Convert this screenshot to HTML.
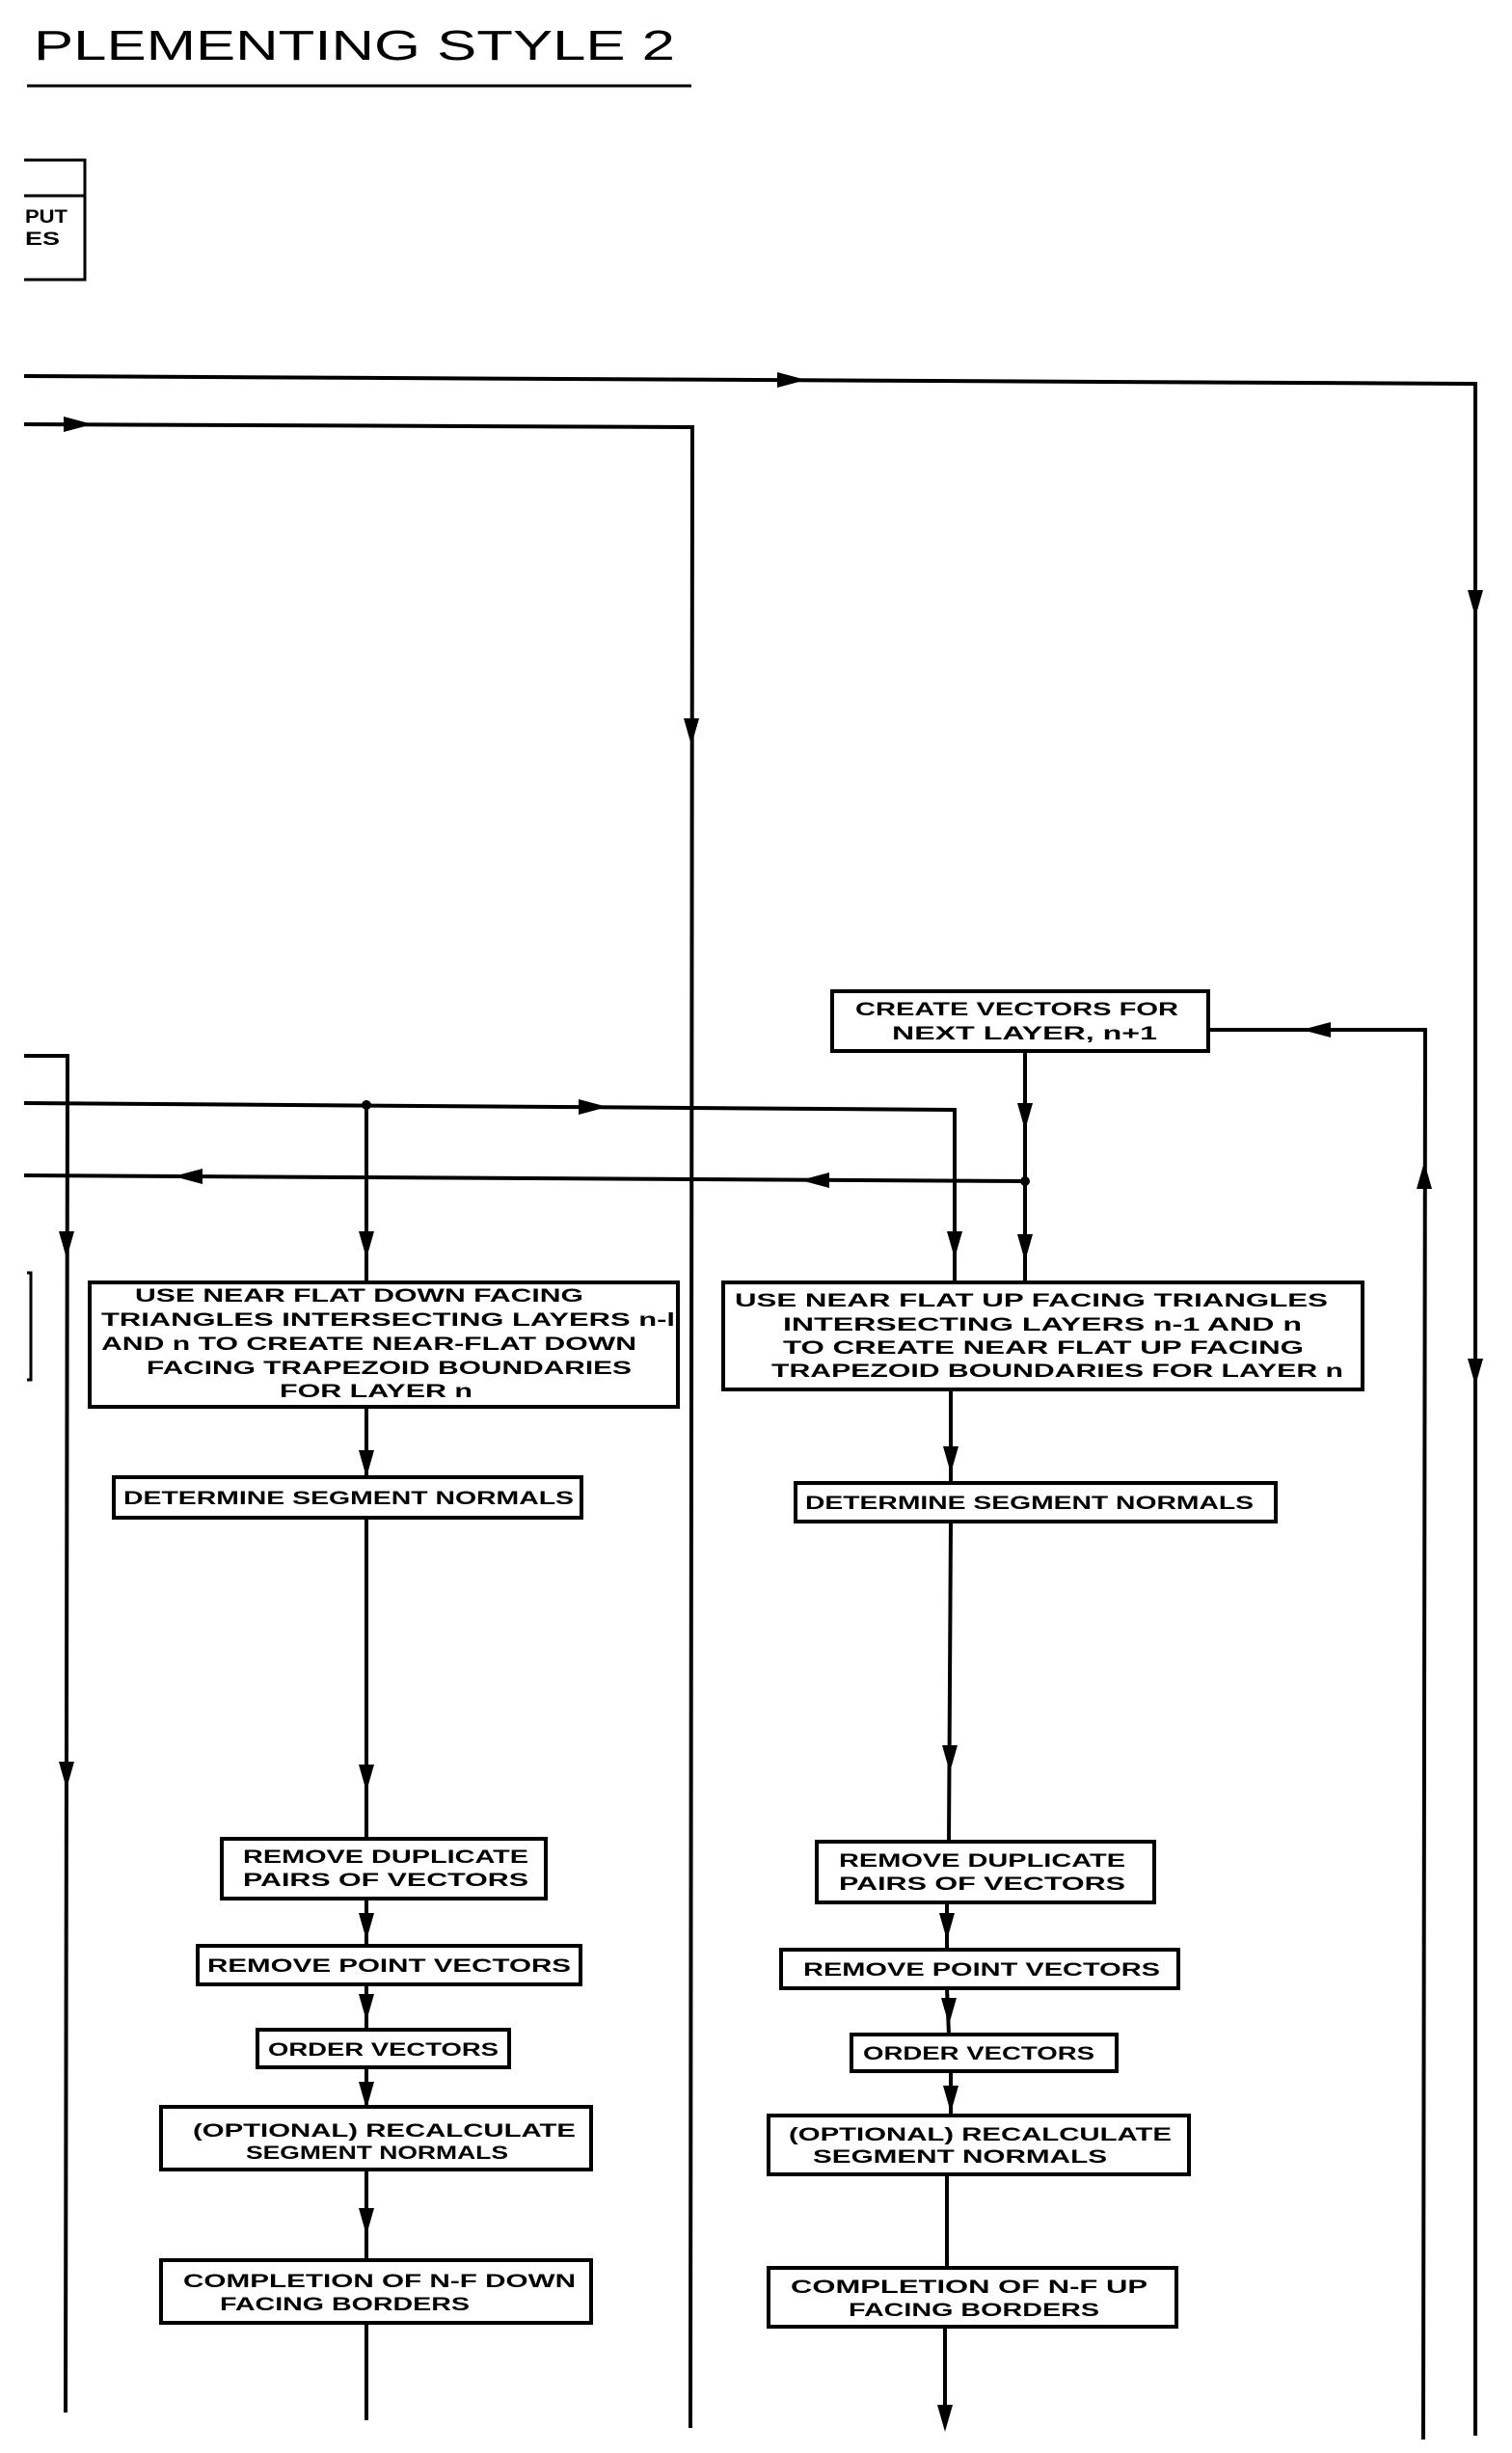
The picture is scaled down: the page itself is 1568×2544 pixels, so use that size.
<!DOCTYPE html>
<html><head><meta charset="utf-8"><style>
html,body{margin:0;padding:0;background:#fff;}
svg{display:block;}
text{font-family:"Liberation Sans",sans-serif;font-weight:bold;font-size:19px;fill:#000;}
</style></head><body>
<svg width="1568" height="2544" viewBox="0 0 1568 2544" xmlns="http://www.w3.org/2000/svg">
<g stroke="#000" stroke-width="4" fill="none">
<line x1="28" y1="89" x2="717" y2="89" stroke-width="3"/>
<polyline points="25,166 88,166 88,290 25,290" stroke-width="3"/>
<line x1="25" y1="203" x2="88" y2="203" stroke-width="3"/>
<polyline points="25,390 1530,398 1530,2526"/>
<polyline points="25,440 718,443 716,2518"/>
<rect x="863" y="1028" width="390" height="62"/>
<polyline points="1253,1068 1478,1068 1476,2530"/>
<line x1="1063" y1="1090" x2="1063" y2="1330"/>
<polyline points="25,1144 990,1151 990,1330"/>
<polyline points="25,1219 1063,1225"/>
<polyline points="25,1095 70,1095 68,2502"/>
<line x1="380" y1="1146" x2="380" y2="1330"/>
<polyline points="28,1320 32,1320 32,1431 28,1431" stroke-width="3"/>
<rect x="93" y="1330" width="610" height="129"/>
<line x1="380" y1="1459" x2="380" y2="1532"/>
<rect x="118" y="1532" width="485" height="42"/>
<line x1="380" y1="1574" x2="380" y2="1907"/>
<rect x="230" y="1907" width="336" height="62"/>
<line x1="380" y1="1969" x2="380" y2="2018"/>
<rect x="205" y="2018" width="397" height="40"/>
<line x1="380" y1="2058" x2="380" y2="2105"/>
<rect x="267" y="2105" width="261" height="39"/>
<line x1="380" y1="2144" x2="380" y2="2185"/>
<rect x="167" y="2185" width="446" height="65"/>
<line x1="380" y1="2250" x2="380" y2="2344"/>
<rect x="167" y="2344" width="446" height="65"/>
<line x1="380" y1="2409" x2="380" y2="2510"/>
<rect x="750" y="1330" width="663" height="111"/>
<line x1="986" y1="1441" x2="986" y2="1538"/>
<rect x="825" y="1538" width="498" height="40"/>
<line x1="986" y1="1578" x2="984" y2="1910"/>
<rect x="847" y="1910" width="350" height="63"/>
<line x1="982" y1="1973" x2="982" y2="2022"/>
<rect x="810" y="2022" width="412" height="40"/>
<line x1="982" y1="2062" x2="984" y2="2110"/>
<rect x="883" y="2110" width="275" height="38"/>
<line x1="986" y1="2148" x2="986" y2="2194"/>
<rect x="797" y="2194" width="436" height="61"/>
<line x1="982" y1="2255" x2="982" y2="2352"/>
<rect x="797" y="2352" width="423" height="61"/>
<line x1="980" y1="2413" x2="980" y2="2510"/>
</g>
<g fill="#000">
<polygon points="836,394 806,386 806,402"/>
<polygon points="96,440 66,432 66,448"/>
<polygon points="1530,640 1522,612 1538,612"/>
<polygon points="1530,1437 1522,1409 1538,1409"/>
<polygon points="717,773 709,745 725,745"/>
<polygon points="1350,1068 1380,1060 1380,1076"/>
<polygon points="1063,1172 1055,1144 1071,1144"/>
<polygon points="1063,1308 1055,1280 1071,1280"/>
<circle cx="1063" cy="1225" r="5"/>
<circle cx="380" cy="1146" r="5"/>
<polygon points="630,1148 600,1140 600,1156"/>
<polygon points="990,1305 982,1277 998,1277"/>
<polygon points="180,1220 210,1212 210,1228"/>
<polygon points="830,1224 860,1216 860,1232"/>
<polygon points="69,1305 61,1277 77,1277"/>
<polygon points="69,1855 61,1827 77,1827"/>
<polygon points="380,1305 372,1277 388,1277"/>
<polygon points="1477,1205 1469,1233 1485,1233"/>
<polygon points="380,1532 372,1504 388,1504"/>
<polygon points="380,1858 372,1830 388,1830"/>
<polygon points="380,2012 372,1984 388,1984"/>
<polygon points="380,2096 372,2068 388,2068"/>
<polygon points="380,2187 372,2159 388,2159"/>
<polygon points="380,2318 372,2290 388,2290"/>
<polygon points="986,1528 978,1500 994,1500"/>
<polygon points="985,1838 977,1810 993,1810"/>
<polygon points="982,2012 974,1984 990,1984"/>
<polygon points="984,2100 976,2072 992,2072"/>
<polygon points="986,2191 978,2163 994,2163"/>
<polygon points="980,2522 972,2494 988,2494"/>
</g>
<text x="35" y="62" textLength="665" lengthAdjust="spacingAndGlyphs" style="font-weight:normal;font-size:44px;">PLEMENTING STYLE 2</text>
<text x="26" y="231" textLength="44" lengthAdjust="spacingAndGlyphs">PUT</text>
<text x="26" y="254" textLength="36" lengthAdjust="spacingAndGlyphs">ES</text>
<text x="887" y="1053" textLength="335" lengthAdjust="spacingAndGlyphs">CREATE VECTORS FOR</text>
<text x="925" y="1078" textLength="275" lengthAdjust="spacingAndGlyphs">NEXT LAYER, n+1</text>
<text x="140" y="1350" textLength="465" lengthAdjust="spacingAndGlyphs">USE NEAR FLAT DOWN FACING</text>
<text x="105" y="1375" textLength="595" lengthAdjust="spacingAndGlyphs">TRIANGLES INTERSECTING LAYERS n-l</text>
<text x="105" y="1400" textLength="555" lengthAdjust="spacingAndGlyphs">AND n TO CREATE NEAR-FLAT DOWN</text>
<text x="152" y="1425" textLength="503" lengthAdjust="spacingAndGlyphs">FACING TRAPEZOID BOUNDARIES</text>
<text x="290" y="1449" textLength="200" lengthAdjust="spacingAndGlyphs">FOR LAYER n</text>
<text x="762" y="1355" textLength="615" lengthAdjust="spacingAndGlyphs">USE NEAR FLAT UP FACING TRIANGLES</text>
<text x="812" y="1380" textLength="538" lengthAdjust="spacingAndGlyphs">INTERSECTING LAYERS n-1 AND n</text>
<text x="812" y="1404" textLength="540" lengthAdjust="spacingAndGlyphs">TO CREATE NEAR FLAT UP FACING</text>
<text x="800" y="1428" textLength="593" lengthAdjust="spacingAndGlyphs">TRAPEZOID BOUNDARIES FOR LAYER n</text>
<text x="128" y="1560" textLength="467" lengthAdjust="spacingAndGlyphs">DETERMINE SEGMENT NORMALS</text>
<text x="835" y="1565" textLength="465" lengthAdjust="spacingAndGlyphs">DETERMINE SEGMENT NORMALS</text>
<text x="252" y="1932" textLength="296" lengthAdjust="spacingAndGlyphs">REMOVE DUPLICATE</text>
<text x="252" y="1956" textLength="296" lengthAdjust="spacingAndGlyphs">PAIRS OF VECTORS</text>
<text x="870" y="1936" textLength="297" lengthAdjust="spacingAndGlyphs">REMOVE DUPLICATE</text>
<text x="870" y="1960" textLength="297" lengthAdjust="spacingAndGlyphs">PAIRS OF VECTORS</text>
<text x="215" y="2045" textLength="377" lengthAdjust="spacingAndGlyphs">REMOVE POINT VECTORS</text>
<text x="833" y="2049" textLength="370" lengthAdjust="spacingAndGlyphs">REMOVE POINT VECTORS</text>
<text x="278" y="2132" textLength="239" lengthAdjust="spacingAndGlyphs">ORDER VECTORS</text>
<text x="895" y="2136" textLength="240" lengthAdjust="spacingAndGlyphs">ORDER VECTORS</text>
<text x="200" y="2216" textLength="397" lengthAdjust="spacingAndGlyphs">(OPTIONAL) RECALCULATE</text>
<text x="255" y="2239" textLength="272" lengthAdjust="spacingAndGlyphs">SEGMENT NORMALS</text>
<text x="818" y="2220" textLength="397" lengthAdjust="spacingAndGlyphs">(OPTIONAL) RECALCULATE</text>
<text x="843" y="2243" textLength="305" lengthAdjust="spacingAndGlyphs">SEGMENT NORMALS</text>
<text x="190" y="2372" textLength="407" lengthAdjust="spacingAndGlyphs">COMPLETION OF N-F DOWN</text>
<text x="228" y="2396" textLength="259" lengthAdjust="spacingAndGlyphs">FACING BORDERS</text>
<text x="820" y="2378" textLength="370" lengthAdjust="spacingAndGlyphs">COMPLETION OF N-F UP</text>
<text x="880" y="2402" textLength="260" lengthAdjust="spacingAndGlyphs">FACING BORDERS</text>
</svg>
</body></html>
